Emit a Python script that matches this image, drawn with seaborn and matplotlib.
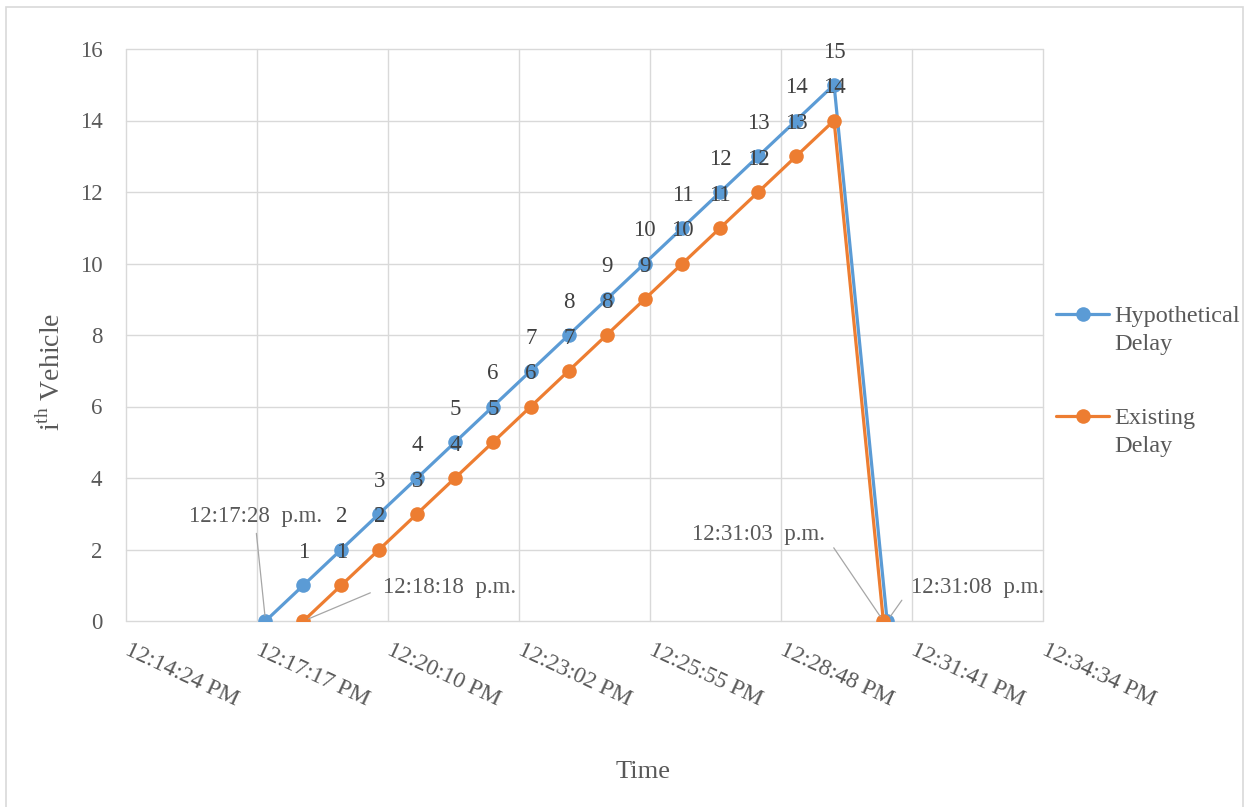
import matplotlib
matplotlib.use("Agg")
import matplotlib.pyplot as plt
import pandas as pd
import seaborn as sns
from matplotlib.lines import Line2D
from matplotlib.patches import Rectangle

# Clock times (p.m.) at which each vehicle count is reached
hypothetical_times = ["12:17:28", "12:18:18", "12:19:08", "12:19:58", "12:20:48",
                      "12:21:38", "12:22:28", "12:23:18", "12:24:08", "12:24:58",
                      "12:25:48", "12:26:38", "12:27:28", "12:28:18", "12:29:08",
                      "12:29:58", "12:31:08"]
hypothetical_counts = [0, 1, 2, 3, 4, 5, 6, 7, 8, 9, 10, 11, 12, 13, 14, 15, 0]

existing_times = ["12:18:18", "12:19:08", "12:19:58", "12:20:48", "12:21:38",
                  "12:22:28", "12:23:18", "12:24:08", "12:24:58", "12:25:48",
                  "12:26:38", "12:27:28", "12:28:18", "12:29:08", "12:29:58",
                  "12:31:03"]
existing_counts = [0, 1, 2, 3, 4, 5, 6, 7, 8, 9, 10, 11, 12, 13, 14, 0]

series_names = ["Hypothetical Delay", "Existing Delay"]
legend_lines = [["Hypothetical", "Delay"], ["Existing", "Delay"]]
x_tick_labels = ["12:14:24 PM", "12:17:17 PM", "12:20:10 PM", "12:23:02 PM",
                 "12:25:55 PM", "12:28:48 PM", "12:31:41 PM", "12:34:34 PM"]
y_ticks = [0, 2, 4, 6, 8, 10, 12, 14, 16]


def to_seconds(t):
    h, m, s = (float(p) for p in t.split(":"))
    return h * 3600 + m * 60 + s


df = pd.concat([
    pd.DataFrame({"time": [to_seconds(t) for t in hypothetical_times],
                  "clock": hypothetical_times,
                  "count": hypothetical_counts,
                  "series": series_names[0]}),
    pd.DataFrame({"time": [to_seconds(t) for t in existing_times],
                  "clock": existing_times,
                  "count": existing_counts,
                  "series": series_names[1]}),
], ignore_index=True)

sns.set_style("white")
plt.rcParams["font.family"] = ["Liberation Serif", "DejaVu Serif"]
plt.rcParams["mathtext.fontset"] = "custom"
plt.rcParams["mathtext.rm"] = "Liberation Serif"

BLUE = "#5B9BD5"
ORANGE = "#ED7D31"
GRID = "#D9D9D9"
TXT = "#595959"
LBL = "#404040"

W, H = 1249, 807
fig = plt.figure(figsize=(W / 100, H / 100), dpi=100)
ax = fig.add_axes([126 / W, 1 - 621 / H, (1043 - 126) / W, (621 - 49) / H])

palette = {series_names[0]: BLUE, series_names[1]: ORANGE}
sns.lineplot(data=df, x="time", y="count", hue="series", hue_order=series_names,
             palette=palette, marker="o", markersize=10.5, markeredgewidth=0,
             linewidth=2.3, sort=False, estimator=None, legend=False, ax=ax)

# Axis range on a 0.002-day step, as in a spreadsheet date axis
x_start = to_seconds("12:14:24")
step = 172.8
x_ticks = [x_start + i * step for i in range(len(x_tick_labels))]
ax.set_xlim(x_ticks[0], x_ticks[-1])
ax.set_ylim(0, 16)
ax.set_xticks(x_ticks)
ax.set_xticklabels(x_tick_labels, rotation=-25, ha="left", va="center",
                   rotation_mode="anchor", fontsize=16.8, color=TXT)
ax.set_yticks(y_ticks)
ax.set_yticklabels([str(v) for v in y_ticks], fontsize=16.5, color=TXT)
ax.tick_params(axis="x", length=0, pad=20)
ax.tick_params(axis="y", length=0, pad=17)
ax.grid(True, color=GRID, linewidth=1.0)
for gl in ax.get_xgridlines() + ax.get_ygridlines():
    gl.set_clip_on(False)
for sp in ax.spines.values():
    sp.set_visible(False)
ax.set_xlabel("")
ax.set_ylabel("")

# Count labels above each point; zero points carry their clock time
time_label_style = {
    (series_names[0], 0): dict(xytext=(-7, 75), ha="center", relpos=(0.5, 0.0), shrinkA=2),
    (series_names[1], 0): dict(xytext=(57, 24), ha="left", relpos=(0.0, 0.5), shrinkA=7),
    (series_names[1], len(existing_counts) - 1): dict(xytext=(-42, 62), ha="right", relpos=(1.0, 0.5), shrinkA=7),
    (series_names[0], len(hypothetical_counts) - 1): dict(xytext=(17, 24), ha="left", relpos=(0.0, 0.5), shrinkA=7),
}
for name in series_names:
    sub = df[df["series"] == name].reset_index(drop=True)
    for i, row in sub.iterrows():
        key = (name, i)
        if key in time_label_style:
            st = time_label_style[key]
            ax.annotate(f"{row['clock']}  p.m.", xy=(row["time"], row["count"]),
                        xytext=st["xytext"], textcoords="offset points",
                        ha=st["ha"], va="center", fontsize=16.5, color=TXT, zorder=6,
                        annotation_clip=False,
                        arrowprops=dict(arrowstyle="-", color="#A6A6A6", lw=0.9,
                                        relpos=st["relpos"], shrinkA=st["shrinkA"],
                                        shrinkB=4))
        else:
            ax.annotate(str(row["count"]), xy=(row["time"], row["count"]),
                        xytext=(0, 23.5), textcoords="offset points",
                        ha="center", va="center", fontsize=16.5, color=LBL,
                        zorder=6, annotation_clip=False)

# Legend to the right of the plot area, one block per series
handles = [Line2D([], [], color=BLUE, lw=2.3, marker="o", markersize=10.5, markeredgewidth=0),
           Line2D([], [], color=ORANGE, lw=2.3, marker="o", markersize=10.5, markeredgewidth=0)]
blank = Line2D([], [], alpha=0)
anchors = [(1056 / W, 1 - 305 / H), (1056 / W, 1 - 407 / H)]
legends = []
for h, lines, anc in zip(handles, legend_lines, anchors):
    leg = ax.legend([h, blank], lines, loc="upper left", bbox_to_anchor=anc,
                    bbox_transform=fig.transFigure, frameon=False, fontsize=17.5,
                    handlelength=2.2, handletextpad=0.2, labelspacing=0.25,
                    borderpad=0, borderaxespad=0, labelcolor=TXT)
    legends.append(leg)
for leg in legends[:-1]:
    ax.add_artist(leg)

fig.text(643 / W, 1 - 772 / H, "Time", ha="center", va="center", fontsize=19, color=TXT)
fig.text(52 / W, 1 - 372 / H, r"i$^{\rm th}$ Vehicle", ha="center", va="center",
         rotation=90, fontsize=20, color=TXT)

# Thin frame around the chart area
fig.add_artist(Rectangle((6 / W, -0.02), (1243 - 6) / W, 1.02 - 7 / H,
                         transform=fig.transFigure, fill=False,
                         edgecolor="#D9D9D9", linewidth=1.2))

fig.savefig("out.png", dpi=100)
